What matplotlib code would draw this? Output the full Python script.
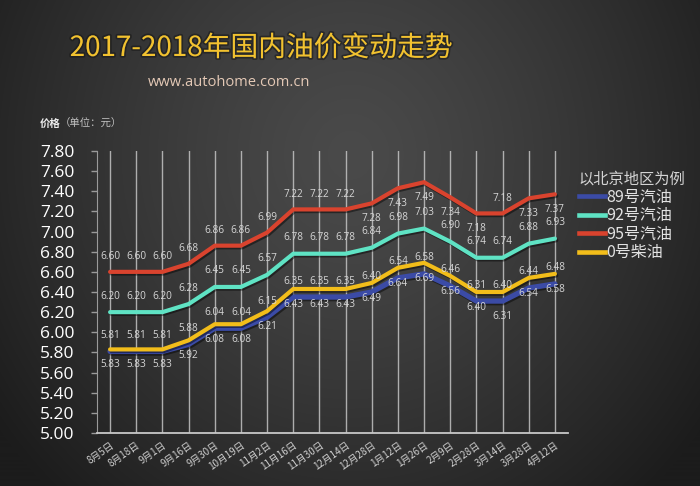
import numpy as np
import matplotlib
matplotlib.use("Agg")
import matplotlib.pyplot as plt
import matplotlib.patheffects as pe
from matplotlib.lines import Line2D

# ---------------- data ----------------
categories = ["8月5日", "8月18日", "9月1日", "9月16日", "9月30日", "10月19日", "11月2日",
              "11月16日", "11月30日", "12月14日", "12月28日", "1月12日", "1月26日",
              "2月9日", "2月28日", "3月14日", "3月28日", "4月12日"]

gas89 = [5.81, 5.81, 5.81, 5.88, 6.04, 6.04, 6.15, 6.35, 6.35, 6.35, 6.40, 6.54, 6.58,
         6.46, 6.31, 6.31, 6.44, 6.48]
gas92 = [6.20, 6.20, 6.20, 6.28, 6.45, 6.45, 6.57, 6.78, 6.78, 6.78, 6.84, 6.98, 7.03,
         6.90, 6.74, 6.74, 6.88, 6.93]
gas95 = [6.60, 6.60, 6.60, 6.68, 6.86, 6.86, 6.99, 7.22, 7.22, 7.22, 7.28, 7.43, 7.49,
         7.34, 7.18, 7.18, 7.33, 7.37]
diesel0 = [5.83, 5.83, 5.83, 5.92, 6.08, 6.08, 6.21, 6.43, 6.43, 6.43, 6.49, 6.64, 6.69,
           6.56, 6.40, 6.40, 6.54, 6.58]

# label texts as printed in the picture
labels_89 = ["5.81", "5.81", "5.81", "5.88", "6.04", "6.04", "6.15", "6.35", "6.35", "6.35",
             "6.40", "6.54", "6.58", "6.46", "6.31", "6.40", "6.44", "6.48"]
labels_0 = ["5.83", "5.83", "5.83", "5.92", "6.08", "6.08", "6.21", "6.43", "6.43", "6.43",
            "6.49", "6.64", "6.69", "6.56", "6.40", "6.31", "6.54", "6.58"]

series_names = ["89号汽油", "92号汽油", "95号汽油", "0号柴油"]
yticks = [5.00, 5.20, 5.40, 5.60, 5.80, 6.00, 6.20, 6.40, 6.60, 6.80, 7.00, 7.20, 7.40, 7.60, 7.80]

# label placement for 95 series (1 = above the line, -1 = below)
side95 = [1, 1, 1, 1, 1, 1, 1, 1, 1, 1, -1, -1, -1, -1, -1, 1, -1, -1]

# ---------------- style ----------------
C89 = "#3b4ba6"
C92 = "#5fe3c4"
C95 = "#d9432e"
C0 = "#f2bd1a"
GRID = "#c4c4c4"
LBL = "#d6d6d6"
CJK = ["Noto Sans CJK SC", "DejaVu Sans"]
NUM = ["Open Sans", "DejaVu Sans"]

fig = plt.figure(figsize=(7.0, 4.86), dpi=100)

# background gradient
bg = fig.add_axes([0, 0, 1, 1], zorder=-10)
h, w = 486, 700
yy, xx = np.mgrid[0:h, 0:w]
xn = xx / w
yn = yy / h
d = np.sqrt(((xn - 0.5) / 0.62) ** 2 + ((yn - 0.32) / 0.95) ** 2)
d = np.clip(d, 0, 1)
val = 0x4a - (0x4a - 0x1c) * d ** 1.3
img = np.dstack([val, val, val]) / 255.0
bg.imshow(img, aspect="auto", extent=[0, 1, 0, 1], origin="upper")
bg.axis("off")

ax = fig.add_axes([97 / 700, 53 / 486, 471 / 700, 282 / 486])
ax.set_facecolor("none")
x = np.arange(len(categories))

lw = 3.0
shadow = [pe.SimpleLineShadow(offset=(1.0, -1.2), shadow_color="black", alpha=0.45), pe.Normal()]
ax.plot(x, gas89, color=C89, lw=lw + 0.8, solid_joinstyle="round", solid_capstyle="round",
        path_effects=shadow, zorder=3, label=series_names[0])
ax.plot(x, gas92, color=C92, lw=lw, solid_joinstyle="round", solid_capstyle="round",
        path_effects=shadow, zorder=3, label=series_names[1])
ax.plot(x, gas95, color=C95, lw=lw, solid_joinstyle="round", solid_capstyle="round",
        path_effects=shadow, zorder=3, label=series_names[2])
ax.plot(x, diesel0, color=C0, lw=lw, solid_joinstyle="round", solid_capstyle="round",
        path_effects=shadow, zorder=4, label=series_names[3])

# data labels
fs_lbl = 7.2
off = 11
for i in range(len(categories)):
    ax.annotate(f"{gas95[i]:.2f}", (x[i], gas95[i]), xytext=(0, off * side95[i]),
                textcoords="offset points", ha="center", va="center", fontsize=fs_lbl,
                color=LBL, family=NUM, zorder=6)
    ax.annotate(f"{gas92[i]:.2f}", (x[i], gas92[i]), xytext=(0, off + 0.5),
                textcoords="offset points", ha="center", va="center", fontsize=fs_lbl,
                color=LBL, family=NUM, zorder=6)
    ax.annotate(labels_89[i], (x[i], gas89[i]), xytext=(0, off + 0.5),
                textcoords="offset points", ha="center", va="center", fontsize=fs_lbl,
                color=LBL, family=NUM, zorder=6)
    ax.annotate(labels_0[i], (x[i], float(labels_0[i])), xytext=(0, -off),
                textcoords="offset points", ha="center", va="center", fontsize=fs_lbl,
                color=LBL, family=NUM, zorder=6)

ax.set_xlim(-0.5, len(categories) - 0.5)
ax.set_ylim(5.0, 7.8)
ax.set_yticks(yticks)
ax.set_yticklabels([f"{v:.2f}" for v in yticks], fontsize=12.5, color="white", family=NUM)
ax.set_xticks(x)
ax.set_xticklabels(categories, rotation=35, ha="right", rotation_mode="anchor",
                   fontsize=7.0, color="#cfcfcf", family=CJK)
ax.tick_params(axis="x", length=0, pad=5)
ax.tick_params(axis="y", length=4, width=1, color="#9a9a9a", pad=12)
ax.grid(axis="x", color=GRID, lw=1.0, alpha=0.85, zorder=1)
ax.set_axisbelow(True)
for s in ["top", "right"]:
    ax.spines[s].set_visible(False)
ax.spines["left"].set_color("#9a9a9a")
ax.spines["bottom"].set_color("#c8c8c8")
ax.spines["bottom"].set_linewidth(1.3)

# legend
handles = [Line2D([], [], color=c, lw=3.3) for c in [C89, C92, C95, C0]]
leg = ax.legend(handles, series_names, loc="upper left",
                bbox_to_anchor=(579 / 700, 1 - 170 / 486), bbox_transform=fig.transFigure,
                frameon=False, title="以北京地区为例", alignment="left",
                prop={"family": CJK, "size": 11.5}, handlelength=1.6, handletextpad=0.1,
                labelspacing=0.1, borderpad=0, borderaxespad=0)
leg.get_title().set_fontproperties({"family": CJK, "size": 11})
leg.get_title().set_color("#d4d4d4")
for t in leg.get_texts():
    t.set_color("#e2e2e2")

# titles
fig.text(261 / 700, 1 - 48 / 486, "2017-2018年国内油价变动走势", ha="center", va="center",
         fontsize=20, color="#f2c230", family=CJK, fontweight="light",
         path_effects=[pe.withStroke(linewidth=2.5, foreground="#1a1a1a", alpha=0.6)])
fig.text(229 / 700, 1 - 82 / 486, "www.autohome.com.cn", ha="center", va="center",
         fontsize=10.5, color="#e4c9b6", family=NUM)
fig.text(40 / 700, 1 - 124 / 486, "价格", ha="left", va="center", fontsize=7.5,
         color="#ececec", family=CJK, fontweight="bold")
fig.text(60 / 700, 1 - 124 / 486, "（单位：元）", ha="left", va="center", fontsize=7.5,
         color="#c0c0c0", family=CJK)

fig.savefig("out.png", dpi=100)
